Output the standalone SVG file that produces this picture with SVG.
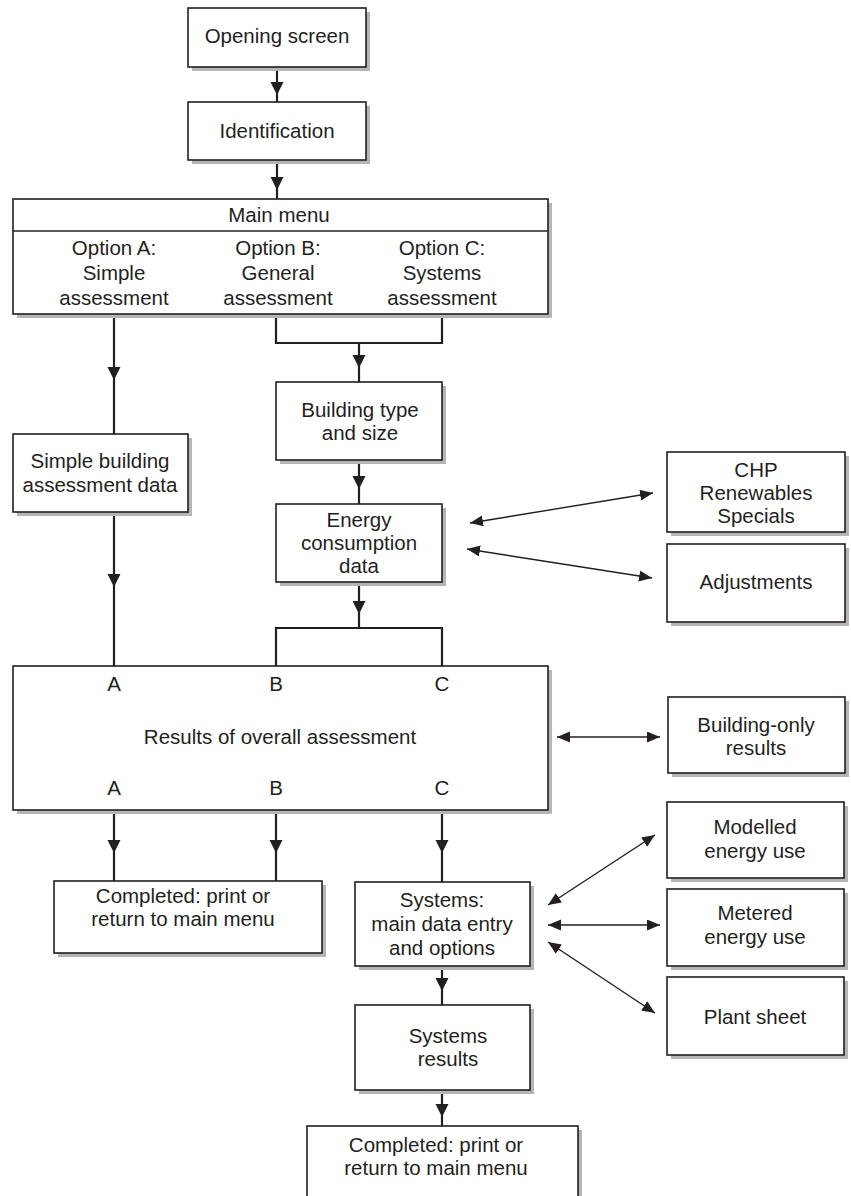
<svg xmlns="http://www.w3.org/2000/svg" width="851" height="1196" viewBox="0 0 851 1196">
<style>
.box{fill:#fff;stroke:#231f20;stroke-width:1.6}
.sh{fill:#b5b5b5}
.t{font-family:"Liberation Sans",Arial,sans-serif;font-size:20.5px;fill:#231f20;text-anchor:middle}
.c{fill:none;stroke:#231f20;stroke-width:2.2}
.d{fill:none;stroke:#231f20;stroke-width:1.4}
</style>
<defs>
<marker id="ah" markerUnits="userSpaceOnUse" markerWidth="14" markerHeight="14" refX="13" refY="6.5" orient="auto">
<path d="M0,0 L13,6.5 L0,13 z" fill="#231f20"/>
</marker>
<marker id="dh" markerUnits="userSpaceOnUse" markerWidth="14" markerHeight="12" refX="13" refY="5.5" orient="auto-start-reverse">
<path d="M0,0 L13,5.5 L0,11 z" fill="#231f20"/>
</marker>
</defs>
<rect width="851" height="1196" fill="#fff"/>

<g id="connectors">
<path class="c" d="M277,67 V95" marker-end="url(#ah)"/><path class="c" d="M277,95 V102"/>
<path class="c" d="M277,160 V190" marker-end="url(#ah)"/><path class="c" d="M277,190 V199"/>
<path class="c" d="M114,314 V380" marker-end="url(#ah)"/><path class="c" d="M114,380 V434"/>
<path class="c" d="M114,512 V587" marker-end="url(#ah)"/><path class="c" d="M114,587 V666"/>
<path class="c" d="M276,314 V343 H442 V314"/>
<path class="c" d="M359,343 V368" marker-end="url(#ah)"/><path class="c" d="M359,368 V382"/>
<path class="c" d="M359,460 V489" marker-end="url(#ah)"/><path class="c" d="M359,489 V504"/>
<path class="c" d="M359,582 V614" marker-end="url(#ah)"/><path class="c" d="M359,614 V628"/>
<path class="c" d="M276,666 V628 H442 V666"/>
<path class="c" d="M114,810 V853" marker-end="url(#ah)"/><path class="c" d="M114,853 V881"/>
<path class="c" d="M276,810 V853" marker-end="url(#ah)"/><path class="c" d="M276,853 V881"/>
<path class="c" d="M442,810 V853" marker-end="url(#ah)"/><path class="c" d="M442,853 V882"/>
<path class="c" d="M442,966 V991" marker-end="url(#ah)"/><path class="c" d="M442,991 V1005"/>
<path class="c" d="M442,1090 V1117" marker-end="url(#ah)"/><path class="c" d="M442,1117 V1126"/>
<path class="d" d="M470,523 L653,493" marker-start="url(#dh)" marker-end="url(#dh)"/>
<path class="d" d="M467,549 L652,578" marker-start="url(#dh)" marker-end="url(#dh)"/>
<path class="d" d="M557,737 L660,737" marker-start="url(#dh)" marker-end="url(#dh)"/>
<path class="d" d="M548,905 L655,835" marker-start="url(#dh)" marker-end="url(#dh)"/>
<path class="d" d="M548,925 L660,925" marker-start="url(#dh)" marker-end="url(#dh)"/>
<path class="d" d="M548,942 L655,1013" marker-start="url(#dh)" marker-end="url(#dh)"/>
</g>

<g id="opening">
<rect class="sh" x="192" y="12" width="178" height="59"/>
<rect class="box" x="188" y="8" width="178" height="59"/>
<text class="t" x="277" y="43">Opening screen</text>
</g>
<g id="identification">
<rect class="sh" x="192" y="106" width="178" height="58"/>
<rect class="box" x="188" y="102" width="178" height="58"/>
<text class="t" x="277" y="138">Identification</text>
</g>
<g id="main-menu">
<rect class="sh" x="17" y="203" width="535" height="115"/>
<rect class="box" x="13" y="199" width="535" height="115"/>
<line x1="13" y1="231" x2="548" y2="231" stroke="#231f20" stroke-width="1.6"/>
<text class="t" x="279" y="222">Main menu</text>
<text class="t" x="114" y="255">Option A:</text>
<text class="t" x="114" y="280">Simple</text>
<text class="t" x="114" y="305">assessment</text>
<text class="t" x="278" y="255">Option B:</text>
<text class="t" x="278" y="280">General</text>
<text class="t" x="278" y="305">assessment</text>
<text class="t" x="442" y="255">Option C:</text>
<text class="t" x="442" y="280">Systems</text>
<text class="t" x="442" y="305">assessment</text>
</g>
<g id="simple">
<rect class="sh" x="17" y="438" width="175" height="78"/>
<rect class="box" x="13" y="434" width="175" height="78"/>
<text class="t" x="100" y="468">Simple building</text>
<text class="t" x="100" y="492">assessment data</text>
</g>
<g id="building-type">
<rect class="sh" x="280" y="386" width="166" height="78"/>
<rect class="box" x="276" y="382" width="166" height="78"/>
<text class="t" x="360" y="417">Building type</text>
<text class="t" x="360" y="440">and size</text>
</g>
<g id="energy">
<rect class="sh" x="280" y="508" width="166" height="78"/>
<rect class="box" x="276" y="504" width="166" height="78"/>
<text class="t" x="359" y="527">Energy</text>
<text class="t" x="359" y="550">consumption</text>
<text class="t" x="359" y="573">data</text>
</g>
<g id="chp">
<rect class="sh" x="671" y="456" width="178" height="80"/>
<rect class="box" x="667" y="452" width="178" height="80"/>
<text class="t" x="756" y="477">CHP</text>
<text class="t" x="756" y="500">Renewables</text>
<text class="t" x="756" y="523">Specials</text>
</g>
<g id="adjustments">
<rect class="sh" x="671" y="548" width="178" height="78"/>
<rect class="box" x="667" y="544" width="178" height="78"/>
<text class="t" x="756" y="589">Adjustments</text>
</g>
<g id="results">
<rect class="sh" x="17" y="670" width="535" height="144"/>
<rect class="box" x="13" y="666" width="535" height="144"/>
<text class="t" x="114" y="691">A</text>
<text class="t" x="276" y="691">B</text>
<text class="t" x="442" y="691">C</text>
<text class="t" x="280" y="744">Results of overall assessment</text>
<text class="t" x="114" y="795">A</text>
<text class="t" x="276" y="795">B</text>
<text class="t" x="442" y="795">C</text>
</g>
<g id="building-only">
<rect class="sh" x="672" y="701" width="177" height="76"/>
<rect class="box" x="668" y="697" width="177" height="76"/>
<text class="t" x="756" y="732">Building-only</text>
<text class="t" x="756" y="755">results</text>
</g>
<g id="completed-1">
<rect class="sh" x="58" y="885" width="268" height="72"/>
<rect class="box" x="54" y="881" width="268" height="72"/>
<text class="t" x="183" y="903">Completed: print or</text>
<text class="t" x="183" y="926">return to main menu</text>
</g>
<g id="systems">
<rect class="sh" x="359" y="886" width="175" height="84"/>
<rect class="box" x="355" y="882" width="175" height="84"/>
<text class="t" x="442" y="907">Systems:</text>
<text class="t" x="442" y="931">main data entry</text>
<text class="t" x="442" y="955">and options</text>
</g>
<g id="modelled">
<rect class="sh" x="671" y="806" width="177" height="76"/>
<rect class="box" x="667" y="802" width="177" height="76"/>
<text class="t" x="755" y="834">Modelled</text>
<text class="t" x="755" y="858">energy use</text>
</g>
<g id="metered">
<rect class="sh" x="671" y="893" width="177" height="77"/>
<rect class="box" x="667" y="889" width="177" height="77"/>
<text class="t" x="755" y="920">Metered</text>
<text class="t" x="755" y="944">energy use</text>
</g>
<g id="plant">
<rect class="sh" x="671" y="981" width="177" height="78"/>
<rect class="box" x="667" y="977" width="177" height="78"/>
<text class="t" x="755" y="1024">Plant sheet</text>
</g>
<g id="systems-results">
<rect class="sh" x="359" y="1009" width="175" height="85"/>
<rect class="box" x="355" y="1005" width="175" height="85"/>
<text class="t" x="448" y="1043">Systems</text>
<text class="t" x="448" y="1066">results</text>
</g>
<g id="completed-2">
<rect class="sh" x="311" y="1130" width="271" height="80"/>
<rect class="box" x="307" y="1126" width="271" height="80"/>
<text class="t" x="436" y="1152">Completed: print or</text>
<text class="t" x="436" y="1175">return to main menu</text>
</g>
</svg>
